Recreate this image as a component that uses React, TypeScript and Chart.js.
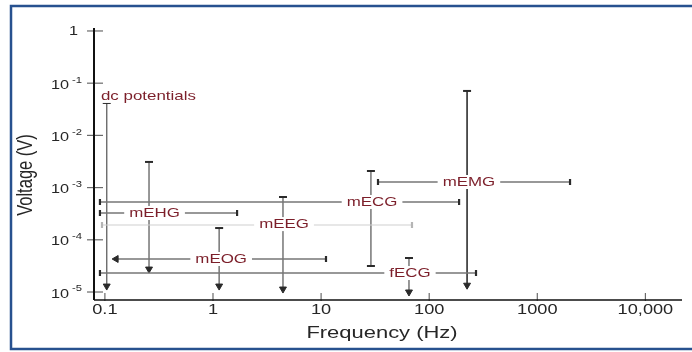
import React, { useEffect, useRef } from 'react';
import { Chart, registerables } from 'chart.js';

Chart.register(...registerables);

// ---------- axis ticks ----------
const xTickValues = [0.1, 1, 10, 100, 1000, 10000];
const xTickLabels = ['0.1', '1', '10', '100', '1000', '10,000'];
const yTickValues = [1, 0.1, 0.01, 0.001, 0.0001, 0.00001];
const yTickBases = ['1', '10', '10', '10', '10', '10'];
const yTickExponents = ['', '-1', '-2', '-3', '-4', '-5'];

const xAxisTitle = 'Frequency (Hz)';
const yAxisTitle = 'Voltage (V)';

// ---------- signals ----------
const signalNames = ['dc potentials', 'mEHG', 'mEOG', 'mEEG', 'mECG', 'fECG', 'mEMG'];

// vertical (voltage) ranges
const vFreq = [0.104, 0.256, 1.14, 4.44, 28.9, 65, 224];
const vTop = [0.0418, 0.0031, 0.000168, 0.00066, 0.00208, 0.0000448, 0.071];
const vBottom = [0.000013, 0.0000275, 0.000013, 0.0000114, 0.0000315, 0.00001, 0.0000135];
const vBottomEnd = ['arrow', 'arrow', 'arrow', 'arrow', 'cap', 'arrow', 'arrow'];

// horizontal (frequency) ranges
const hLevel = [null, 0.000326, 0.0000429, 0.000192, 0.00053, 0.0000231, 0.00128];
const hLow = [null, 0.09, 0.127, 0.094, 0.09, 0.09, 33.6];
const hHigh = [null, 1.67, 11.1, 69.3, 189, 271, 2008];
const hLowEnd = [null, 'cap', 'arrow', 'cap', 'cap', 'cap', 'cap'];

// label anchors
const labelFreq = [0.092, 0.288, 1.19, 4.54, 29.6, 66.4, 233];
const labelVolt = [0.0569, 0.000326, 0.0000429, 0.0002, 0.00053, 0.0000231, 0.00128];
const labelAlign = ['left', 'center', 'center', 'center', 'center', 'center', 'center'];

const FONT = '"Liberation Sans", Arial, Helvetica, sans-serif';
const LABEL_COLOR = '#7c1f2a';
const TEXT_COLOR = '#262626';

function stretchText(
  ctx: CanvasRenderingContext2D,
  text: string,
  x: number,
  y: number,
  size: number,
  color: string,
  align: CanvasTextAlign,
  sx: number
) {
  ctx.save();
  ctx.font = `${size}px ${FONT}`;
  ctx.fillStyle = color;
  ctx.textAlign = align;
  ctx.textBaseline = 'middle';
  ctx.translate(x, y);
  ctx.scale(sx, 1);
  ctx.fillText(text, 0, 0);
  ctx.restore();
}

function textWidth(ctx: CanvasRenderingContext2D, text: string, size: number, sx: number) {
  ctx.save();
  ctx.font = `${size}px ${FONT}`;
  const w = ctx.measureText(text).width * sx;
  ctx.restore();
  return w;
}

const decorPlugin = {
  id: 'decor',
  beforeDraw(chart: any) {
    const ctx = chart.ctx as CanvasRenderingContext2D;
    ctx.save();
    ctx.fillStyle = '#ffffff';
    ctx.fillRect(0, 0, chart.width, chart.height);
    ctx.strokeStyle = '#27518f';
    ctx.lineWidth = 2.5;
    ctx.strokeRect(11, 6, 700, 343);
    ctx.restore();
  },
  beforeDatasetsDraw(chart: any) {
    const ctx = chart.ctx as CanvasRenderingContext2D;
    const { left, right, top, bottom } = chart.chartArea;
    const xs = chart.scales.x;
    const ys = chart.scales.y;
    ctx.save();
    // tick marks
    ctx.strokeStyle = '#6a6a6a';
    ctx.lineWidth = 1.2;
    yTickValues.forEach((v) => {
      const py = ys.getPixelForValue(v);
      ctx.beginPath();
      ctx.moveTo(left - 7, py);
      ctx.lineTo(left + 9, py);
      ctx.stroke();
    });
    xTickValues.forEach((v) => {
      const px = xs.getPixelForValue(v);
      ctx.beginPath();
      ctx.moveTo(px, bottom - 7);
      ctx.lineTo(px, bottom + 1);
      ctx.stroke();
    });
    // axis lines
    ctx.strokeStyle = '#111111';
    ctx.lineWidth = 2;
    ctx.beginPath();
    ctx.moveTo(left, top);
    ctx.lineTo(left, bottom);
    ctx.stroke();
    ctx.lineWidth = 1.6;
    ctx.beginPath();
    ctx.moveTo(left, bottom);
    ctx.lineTo(right, bottom);
    ctx.stroke();
    ctx.restore();

    // y tick labels
    yTickValues.forEach((v, i) => {
      const py = ys.getPixelForValue(v);
      const exp = yTickExponents[i];
      if (!exp) {
        stretchText(ctx, yTickBases[i], left - 16, py, 13, TEXT_COLOR, 'right', 1.25);
      } else {
        const ew = textWidth(ctx, exp, 9, 1.25);
        const rightEdge = left - 12;
        stretchText(ctx, exp, rightEdge, py - 3, 9, TEXT_COLOR, 'right', 1.25);
        stretchText(ctx, yTickBases[i], rightEdge - ew - 3, py + 2, 13, TEXT_COLOR, 'right', 1.25);
      }
    });
    // x tick labels
    xTickValues.forEach((v, i) => {
      const px = xs.getPixelForValue(v);
      stretchText(ctx, xTickLabels[i], px, bottom + 10, 14, TEXT_COLOR, 'center', 1.3);
    });
    // axis titles
    stretchText(ctx, xAxisTitle, 382, 333, 16.5, TEXT_COLOR, 'center', 1.33);
    ctx.save();
    ctx.translate(26, (top + bottom) / 2 + 11);
    ctx.rotate(-Math.PI / 2);
    ctx.scale(1, 1.3);
    ctx.font = `16.5px ${FONT}`;
    ctx.fillStyle = TEXT_COLOR;
    ctx.textAlign = 'center';
    ctx.textBaseline = 'middle';
    ctx.fillText(yAxisTitle, 0, 0);
    ctx.restore();
  },
  afterDatasetsDraw(chart: any) {
    const ctx = chart.ctx as CanvasRenderingContext2D;
    const xs = chart.scales.x;
    const ys = chart.scales.y;
    signalNames.forEach((name, i) => {
      const px = xs.getPixelForValue(labelFreq[i]);
      const py = ys.getPixelForValue(labelVolt[i]);
      const size = 13;
      const sx = 1.3;
      const w = textWidth(ctx, name, size, sx);
      const align = labelAlign[i] as CanvasTextAlign;
      const x0 = align === 'left' ? px : px - w / 2;
      ctx.save();
      ctx.fillStyle = '#ffffff';
      ctx.fillRect(x0 - 5, py - 7, w + 10, 14);
      ctx.restore();
      stretchText(ctx, name, px, py, size, LABEL_COLOR, align, sx);
    });
  },
};

function buildDatasets() {
  const datasets: any[] = [];
  signalNames.forEach((name, i) => {
    const lvl = hLevel[i];
    if (lvl != null) {
      const light = name === 'mEEG';
      const arrow = hLowEnd[i] === 'arrow';
      datasets.push({
        label: name + ' frequency',
        data: [
          { x: hLow[i], y: lvl },
          { x: hHigh[i], y: lvl },
        ],
        showLine: true,
        borderColor: light ? '#cfcfcf' : '#767676',
        borderWidth: light ? 1 : 1.4,
        pointStyle: [arrow ? 'triangle' : 'line', 'line'],
        pointRotation: [arrow ? 270 : 90, 90],
        pointRadius: [arrow ? 4 : 3, 3],
        pointBorderWidth: [arrow ? 1 : 2.2, 2.2],
        pointBorderColor: light ? '#b5b5b5' : '#2a2a2a',
        pointBackgroundColor: light ? '#b5b5b5' : '#2a2a2a',
      });
    }
  });
  signalNames.forEach((name, i) => {
    const arrow = vBottomEnd[i] === 'arrow';
    const dark = name === 'mEMG';
    datasets.push({
      label: name + ' voltage',
      data: [
        { x: vFreq[i], y: vTop[i] },
        { x: vFreq[i], y: vBottom[i] },
      ],
      showLine: true,
      borderColor: dark ? '#111111' : '#6c6c6c',
      borderWidth: 1.4,
      pointStyle: ['line', arrow ? 'triangle' : 'line'],
      pointRotation: [0, arrow ? 180 : 0],
      pointRadius: [4, 4],
      pointBorderWidth: [2, arrow ? 1 : 2],
      pointBorderColor: '#2a2a2a',
      pointBackgroundColor: '#2a2a2a',
    });
  });
  return datasets;
}

export default function App() {
  const canvasRef = useRef<HTMLCanvasElement | null>(null);

  useEffect(() => {
    const canvas = canvasRef.current;
    if (!canvas) return;
    const chart = new Chart(canvas, {
      type: 'scatter',
      data: { datasets: buildDatasets() },
      options: {
        animation: false,
        responsive: false,
        devicePixelRatio: 1,
        events: [],
        layout: { padding: { left: 94, top: 28, right: 10, bottom: 52 } },
        plugins: {
          legend: { display: false },
          tooltip: { enabled: false },
        },
        scales: {
          x: { type: 'logarithmic', min: 0.0793, max: 21800, display: false },
          y: { type: 'logarithmic', min: 0.00000703, max: 1.14, display: false },
        },
      } as any,
      plugins: [decorPlugin as any],
    });
    return () => chart.destroy();
  }, []);

  return (
    <div style={{ position: 'absolute', left: 0, top: 0, width: 692, height: 352, background: '#fff' }}>
      <canvas ref={canvasRef} width={692} height={352} style={{ width: 692, height: 352, display: 'block' }} />
    </div>
  );
}
